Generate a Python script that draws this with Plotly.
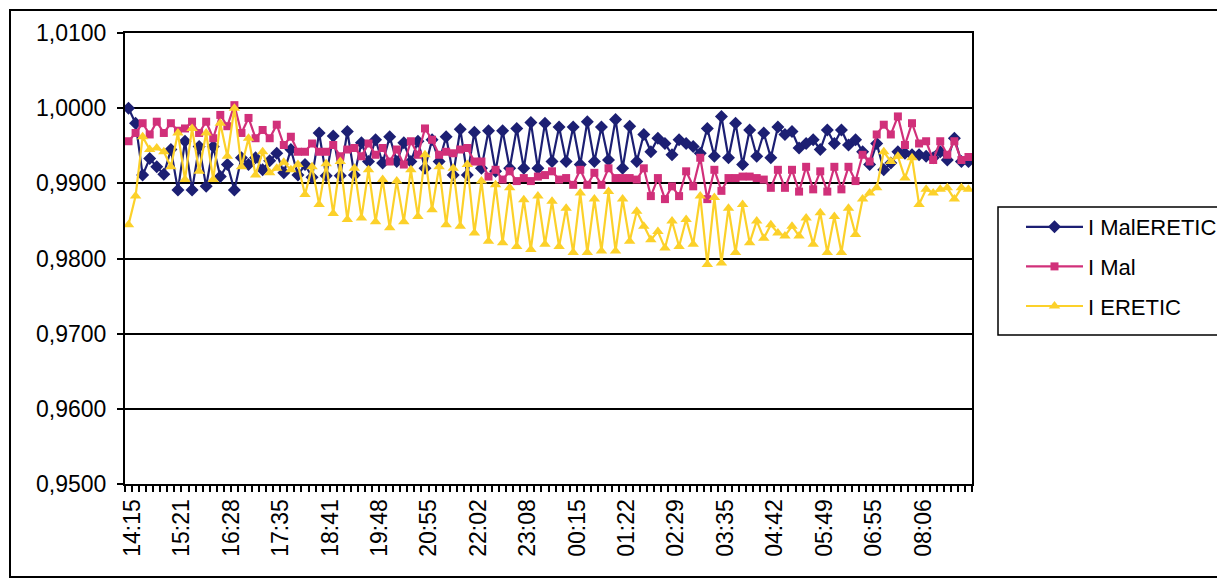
import plotly.graph_objects as go

# ---- data ----
tick_labels = ["14:15", "15:21", "16:28", "17:35", "18:41", "19:48", "20:55", "22:02",
               "23:08", "00:15", "01:22", "02:29", "03:35", "04:42", "05:49", "06:55", "08:06"]
points_per_label = 7

mal_eretic = [
    1.0000, 0.9980, 0.9911, 0.9933, 0.9922, 0.9912, 0.9945, 0.9891, 0.9956, 0.9891,
    0.9949, 0.9896, 0.9949, 0.9909, 0.9925, 0.9891, 0.9934, 0.9925, 0.9934, 0.9918,
    0.9930, 0.9940, 0.9914, 0.9945, 0.9911, 0.9925, 0.9908, 0.9967, 0.9910, 0.9963,
    0.9910, 0.9969, 0.9911, 0.9954, 0.9929, 0.9958, 0.9927, 0.9962, 0.9929, 0.9954,
    0.9929, 0.9956, 0.9920, 0.9958, 0.9929, 0.9962, 0.9911, 0.9972, 0.9911, 0.9968,
    0.9920, 0.9970, 0.9916, 0.9970, 0.9920, 0.9973, 0.9920, 0.9981, 0.9920, 0.9980,
    0.9929, 0.9975, 0.9929, 0.9975, 0.9925, 0.9982, 0.9929, 0.9975, 0.9931, 0.9985,
    0.9920, 0.9976, 0.9929, 0.9965, 0.9942, 0.9960, 0.9953, 0.9938, 0.9958, 0.9953,
    0.9949, 0.9940, 0.9973, 0.9936, 0.9989, 0.9934, 0.9980, 0.9925, 0.9971, 0.9936,
    0.9967, 0.9934, 0.9975, 0.9965, 0.9969, 0.9947, 0.9953, 0.9958, 0.9945, 0.9971,
    0.9953, 0.9971, 0.9951, 0.9958, 0.9942, 0.9925, 0.9953, 0.9918, 0.9927, 0.9942,
    0.9940, 0.9938, 0.9938, 0.9936, 0.9934, 0.9942, 0.9931, 0.9960, 0.9929, 0.9929,
]

mal = [
    0.9956, 0.9967, 0.9980, 0.9965, 0.9982, 0.9967, 0.9980, 0.9970, 0.9973, 0.9982,
    0.9967, 0.9982, 0.9960, 0.9991, 0.9976, 1.0004, 0.9967, 0.9987, 0.9960, 0.9971,
    0.9960, 0.9978, 0.9951, 0.9962, 0.9942, 0.9942, 0.9953, 0.9942, 0.9942, 0.9951,
    0.9936, 0.9945, 0.9947, 0.9936, 0.9953, 0.9938, 0.9947, 0.9929, 0.9945, 0.9925,
    0.9956, 0.9938, 0.9973, 0.9958, 0.9938, 0.9942, 0.9940, 0.9945, 0.9947, 0.9929,
    0.9929, 0.9909, 0.9918, 0.9905, 0.9916, 0.9903, 0.9907, 0.9903, 0.9909, 0.9911,
    0.9916, 0.9905, 0.9907, 0.9898, 0.9918, 0.9898, 0.9914, 0.9898, 0.9920, 0.9907,
    0.9907, 0.9907, 0.9905, 0.9920, 0.9883, 0.9907, 0.9879, 0.9896, 0.9883, 0.9916,
    0.9896, 0.9934, 0.9879, 0.9918, 0.9890, 0.9907, 0.9907, 0.9909, 0.9909, 0.9907,
    0.9905, 0.9894, 0.9918, 0.9894, 0.9918, 0.9889, 0.9922, 0.9892, 0.9916, 0.9889,
    0.9922, 0.9892, 0.9922, 0.9903, 0.9938, 0.9929, 0.9965, 0.9978, 0.9965, 0.9989,
    0.9951, 0.9980, 0.9953, 0.9956, 0.9931, 0.9956, 0.9938, 0.9956, 0.9931, 0.9935,
]

eretic = [
    0.9845, 0.9883, 0.9962, 0.9945, 0.9947, 0.9942, 0.9922, 0.9967, 0.9905, 0.9973,
    0.9916, 0.9967, 0.9905, 0.9980, 0.9936, 1.0000, 0.9922, 0.9960, 0.9911, 0.9942,
    0.9914, 0.9920, 0.9928, 0.9918, 0.9925, 0.9885, 0.9922, 0.9872, 0.9926, 0.9860,
    0.9929, 0.9852, 0.9920, 0.9854, 0.9918, 0.9849, 0.9905, 0.9841, 0.9903, 0.9849,
    0.9918, 0.9856, 0.9938, 0.9865, 0.9922, 0.9845, 0.9920, 0.9843, 0.9925, 0.9834,
    0.9903, 0.9823, 0.9898, 0.9821, 0.9894, 0.9816, 0.9878, 0.9812, 0.9883, 0.9819,
    0.9876, 0.9816, 0.9867, 0.9808, 0.9887, 0.9808, 0.9879, 0.9810, 0.9889, 0.9810,
    0.9879, 0.9823, 0.9863, 0.9843, 0.9825, 0.9836, 0.9814, 0.9850, 0.9816, 0.9852,
    0.9819, 0.9883, 0.9792, 0.9881, 0.9794, 0.9867, 0.9808, 0.9872, 0.9821, 0.9850,
    0.9827, 0.9845, 0.9834, 0.9830, 0.9843, 0.9830, 0.9854, 0.9819, 0.9861, 0.9808,
    0.9856, 0.9808, 0.9867, 0.9832, 0.9879, 0.9887, 0.9894, 0.9942, 0.9929, 0.9936,
    0.9907, 0.9934, 0.9872, 0.9892, 0.9887, 0.9892, 0.9894, 0.9879, 0.9894, 0.9892,
]

series = [
    ("I MalERETIC", mal_eretic, "#1c1f73", "diamond", 10),
    ("I Mal", mal, "#d1307a", "square", 8),
    ("I ERETIC", eretic, "#fcd12a", "triangle-up", 10),
]

# ---- geometry (window pixels; the page body adds an 8px margin) ----
OFF = 8
WIN_W, WIN_H = 1225, 579
W, H = WIN_W - OFF, WIN_H - OFF
PL, PR, PT, PB = 125, 972, 33, 484          # plot area in window pixels
L, R, T, B = PL - OFF, PR - OFF, PT - OFF, PB - OFF
FONT = "Liberation Sans, Arial, sans-serif"


def px_x(p):
    return (p - OFF - L) / (R - L)


def px_y(p):
    return (B - (p - OFF)) / (B - T)


n = len(mal_eretic)
x_idx = list(range(n))

fig = go.Figure()
for i, (name, vals, color, sym, ms) in enumerate(series):
    fig.add_trace(go.Scatter(
        x=x_idx, y=vals, name=name, mode="lines+markers",
        line=dict(color=color, width=2.2),
        marker=dict(symbol=sym, size=ms, color=color),
        legendgroup=f"g{i}",
    ))

tickvals = [k * points_per_label for k in range(len(tick_labels))]

fig.update_layout(
    width=W, height=H,
    margin=dict(l=L, r=W - R, t=T, b=H - B, pad=0, autoexpand=False),
    paper_bgcolor="white", plot_bgcolor="white",
    separators=", ",
    font=dict(family=FONT, size=22, color="black"),
    showlegend=True,
    legend=dict(
        x=px_x(1021), y=px_y(206),
        xanchor="left", yanchor="top",
        borderwidth=0, bgcolor="rgba(0,0,0,0)",
        font=dict(family=FONT, size=22, color="black"),
        tracegroupgap=8, itemwidth=57,
    ),
    xaxis=dict(
        automargin=False,
        range=[-0.5, n - 0.5],
        tickmode="array", tickvals=tickvals, ticktext=tick_labels,
        tickangle=-90, ticks="", showgrid=False, zeroline=False,
        showline=True, linecolor="black", linewidth=2, mirror=True,
        tickfont=dict(family=FONT, size=23),
        ticklabelstandoff=4, ticklabelshift=4,
        minor=dict(tickmode="array", tickvals=[k - 0.5 for k in range(n + 1)],
                   ticks="outside", ticklen=6, tickwidth=1.5, tickcolor="black",
                   showgrid=False),
    ),
    yaxis=dict(
        automargin=False,
        range=[0.95, 1.01], dtick=0.01, tick0=0.95, tickformat=".4f",
        showgrid=True, gridcolor="black", gridwidth=2,
        zeroline=False, showline=True, linecolor="black", linewidth=2, mirror=True,
        ticks="outside", ticklen=6, tickwidth=1.5, tickcolor="black",
        tickfont=dict(family=FONT, size=23),
        ticklabelstandoff=6,
    ),
)

# outer chart-area frame
fig.add_shape(type="rect", xref="paper", yref="paper",
              x0=px_x(10), x1=px_x(1223), y0=px_y(577), y1=px_y(10),
              line=dict(color="black", width=2), fillcolor="rgba(0,0,0,0)", layer="below")
# legend frame
fig.add_shape(type="rect", xref="paper", yref="paper",
              x0=px_x(998), x1=px_x(1222), y0=px_y(335), y1=px_y(207),
              line=dict(color="black", width=1.5), fillcolor="rgba(0,0,0,0)", layer="below")

fig.write_html("out.html")
